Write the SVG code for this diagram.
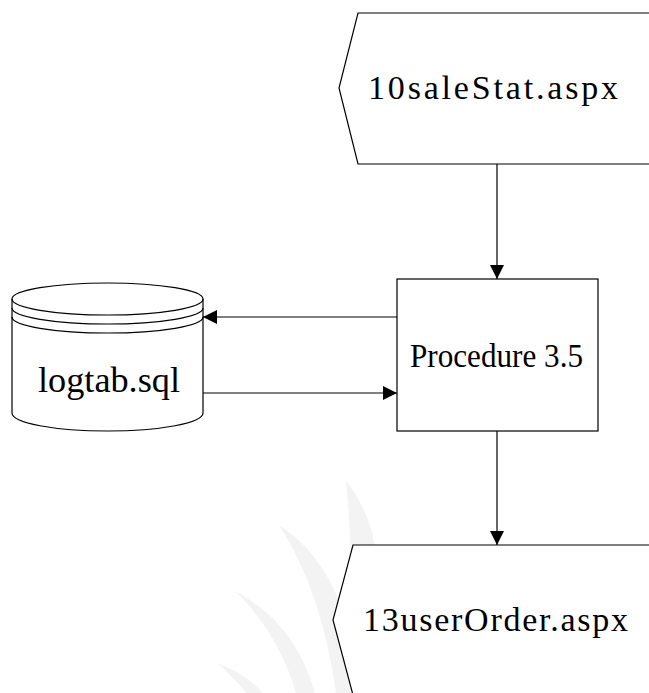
<svg xmlns="http://www.w3.org/2000/svg" width="649" height="693" viewBox="0 0 649 693">
  <defs>
    <style>
      .shape { fill: #ffffff; stroke: #000000; stroke-width: 1.2; }
      .line { fill: none; stroke: #000000; stroke-width: 1.2; }
      .conn { fill: none; stroke: #000000; stroke-width: 1.2; }
      .lbl { font-family: "Liberation Serif", "Noto Serif", serif; fill: #000000; }
      .wm { fill: #f3f3f3; stroke: none; }
    </style>
    <marker id="arrow" viewBox="0 0 14 14" refX="14" refY="7" markerWidth="14" markerHeight="14" markerUnits="userSpaceOnUse" orient="auto">
      <path d="M0,0 L14,7 L0,14 Z" fill="#000000"/>
    </marker>
  </defs>
  <rect x="0" y="0" width="649" height="693" fill="#ffffff"/>

  <g id="watermark">
    <path class="wm" d="M346,481 C362,500 375,530 376,560 L370,693 L352,693 C353,600 351,530 346,481 Z"/>
    <path class="wm" d="M279,525 C310,545 335,580 345,620 L352,693 L336,693 C326,620 305,565 279,525 Z"/>
    <path class="wm" d="M235,591 C270,610 300,640 315,693 L296,693 C285,655 265,620 235,591 Z"/>
    <path class="wm" d="M217,663 C240,672 255,683 262,693 L246,693 C238,683 228,672 217,663 Z"/>
  </g>

  <g id="connectors">
    <line class="conn" x1="497" y1="164" x2="497" y2="279" marker-end="url(#arrow)"/>
    <line class="conn" x1="497" y1="431" x2="497" y2="545" marker-end="url(#arrow)"/>
    <line class="conn" x1="397" y1="317" x2="203" y2="317" marker-end="url(#arrow)"/>
    <line class="conn" x1="203" y1="393" x2="397" y2="393" marker-end="url(#arrow)"/>
  </g>

  <g id="node-10saleStat">
    <path class="shape" d="M660,13 L358,13 L339,88 L358,164 L660,164"/>
    <text class="lbl" x="368" y="99" font-size="34" textLength="250" lengthAdjust="spacing">10saleStat.aspx</text>
  </g>

  <g id="node-procedure">
    <rect class="shape" x="397" y="279" width="201" height="152"/>
    <text class="lbl" x="410" y="367" font-size="34" textLength="173" lengthAdjust="spacingAndGlyphs">Procedure 3.5</text>
  </g>

  <g id="node-logtab">
    <path class="shape" d="M12,299 L12,413 A95.5,18 0 0 0 203,413 L203,299 A95.5,16 0 0 0 12,299 Z"/>
    <path class="line" d="M12,299 A95.5,16 0 0 0 203,299"/>
    <path class="line" d="M12,308 A95.5,16 0 0 0 203,308"/>
    <path class="line" d="M12,317 A95.5,16 0 0 0 203,317"/>
    <text class="lbl" x="38" y="392" font-size="35" textLength="142" lengthAdjust="spacingAndGlyphs">logtab.sql</text>
  </g>

  <g id="node-13userOrder">
    <path class="shape" d="M660,545 L353,545 L333,620 L353,695 L660,695"/>
    <text class="lbl" x="363" y="631" font-size="34" textLength="265" lengthAdjust="spacing">13userOrder.aspx</text>
  </g>
</svg>
